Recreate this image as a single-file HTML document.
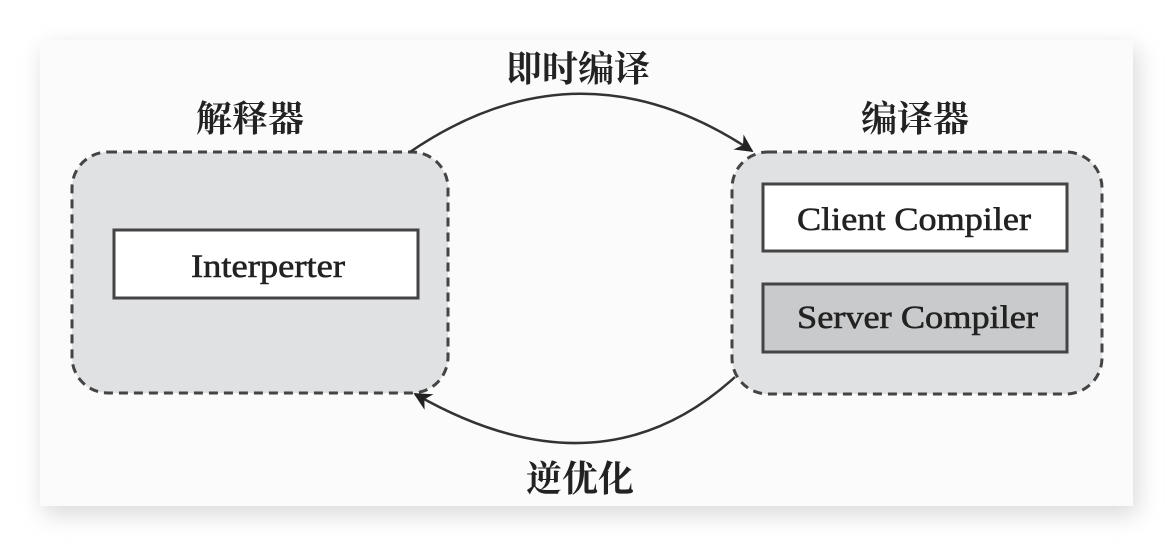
<!DOCTYPE html>
<html><head><meta charset="utf-8"><style>
html,body{margin:0;padding:0;background:#fff;}
svg{display:block;}
</style></head><body>
<svg width="1172" height="546" viewBox="0 0 1172 546" xmlns="http://www.w3.org/2000/svg">
<defs>
<filter id="sh" x="-10%" y="-10%" width="120%" height="130%"><feGaussianBlur stdDeviation="12"/></filter>
<marker id="ah" viewBox="0 0 10 10" refX="9" refY="5" markerWidth="18" markerHeight="18" markerUnits="userSpaceOnUse" orient="auto"><path d="M0,0 L10,5 L0,10 L3,5 z" fill="#222"/></marker>
</defs>
<rect x="44" y="48" width="1093" height="466" fill="#d8d8d8" filter="url(#sh)"/>
<rect x="40" y="40" width="1093" height="466" fill="#fbfbfb"/>
<g font-family="'Liberation Serif','Noto Serif CJK SC',serif" fill="#222">
<rect x="72" y="152" width="376" height="241" rx="36" fill="#dfe1e3" stroke="#444" stroke-width="3" stroke-dasharray="9,6"/>
<rect x="732" y="152" width="370" height="242" rx="36" fill="#dfe1e3" stroke="#444" stroke-width="3" stroke-dasharray="9,6"/>
<rect x="114" y="230" width="304" height="68" fill="#fff" stroke="#444" stroke-width="3"/>
<rect x="763" y="184" width="304" height="67" fill="#fff" stroke="#444" stroke-width="3"/>
<rect x="763" y="284" width="304" height="68" fill="#c9cacb" stroke="#444" stroke-width="3"/>
<g stroke="#222" stroke-width="0.6">
<text x="191" y="277" font-size="33" textLength="154" lengthAdjust="spacingAndGlyphs">Interperter</text>
<text x="797" y="230" font-size="33" textLength="234" lengthAdjust="spacingAndGlyphs">Client Compiler</text>
<text x="797" y="328" font-size="33" textLength="241" lengthAdjust="spacingAndGlyphs">Server Compiler</text>
</g>
<text x="250" y="131" font-size="36" text-anchor="middle" font-weight="bold">解释器</text>
<text x="915" y="131" font-size="36" text-anchor="middle" font-weight="bold">编译器</text>
<text x="578" y="81" font-size="36" text-anchor="middle" font-weight="bold">即时编译</text>
<text x="580" y="491" font-size="36" text-anchor="middle" font-weight="bold">逆优化</text>
<path d="M410,152 Q580,36 752,151" fill="none" stroke="#333" stroke-width="2.5" marker-end="url(#ah)"/>
<path d="M735,377 Q600,500 415,394" fill="none" stroke="#333" stroke-width="2.5" marker-end="url(#ah)"/>
</g>
</svg>
</body></html>
